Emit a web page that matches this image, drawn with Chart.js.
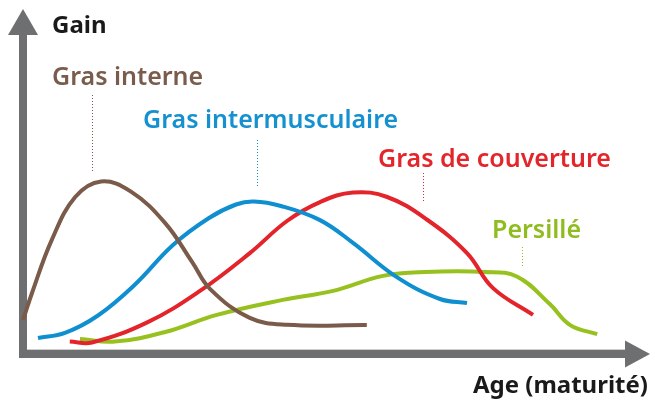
<!DOCTYPE html>
<html>
<head>
<meta charset="utf-8">
<script src="https://cdn.jsdelivr.net/npm/chart.js@4.4.1/dist/chart.umd.min.js"></script>
<style>
  html, body { margin: 0; padding: 0; background: #ffffff; }
  #wrap { width: 651px; height: 401px; position: relative; }
</style>
</head>
<body>
<div id="wrap"><canvas id="c"></canvas></div>
<script>
// Series names
const seriesNames = ["Gras interne", "Gras intermusculaire", "Gras de couverture", "Persillé"];

// Age (maturity) values and gain values per series (0-100 scales)
const internAge  = [1, 2.5, 5.8, 9.7, 14, 19, 24.7, 29.2, 32.2, 38.8, 45, 58.3];
const internGain = [10, 19, 36.7, 51, 56.2, 52.8, 42.3, 29.3, 20.3, 10.7, 8.4, 8.3];

const interMuscAge  = [3.5, 8, 13.5, 19.5, 26, 32, 36.5, 39.5, 44, 50.5, 56, 63.3, 70.5, 75];
const interMuscGain = [4, 5.7, 11.5, 21.5, 35, 44, 48.5, 49.5, 48, 43.3, 35.7, 24.3, 17, 15.7];

const couvAge  = [8.8, 12.5, 21.8, 30.5, 38.8, 45, 50.5, 56, 61.7, 68.3, 75, 79.3, 86];
const couvGain = [2.8, 2.5, 9.3, 19.7, 32.3, 43, 49.3, 52.5, 51, 43.5, 32.3, 20.7, 11.7];

const persAge  = [10.5, 16.3, 24.7, 33.3, 44.3, 52.7, 61, 68, 78, 83.3, 88.8, 92.2, 96.7];
const persGain = [3.7, 2.8, 6, 11.7, 16.7, 19.7, 24.7, 26, 26, 24.5, 15.3, 8.3, 5.3];

// Axis titles
const yTitle = "Gain";
const xTitle = "Age (maturité)";

const colors = ["#7a5a49", "#0f8fd0", "#e3242b", "#97c11f"];
const labelColors = ["#7a5c4c", "#1591d0", "#e3262c", "#8fbd1f"];

function pts(xs, ys) { return xs.map((x, i) => ({ x: x, y: ys[i] })); }

const FONT = '"Noto Sans", "Open Sans", sans-serif';

const axesPlugin = {
  id: 'axesPlugin',
  beforeDatasetsDraw(chart) {
    const ctx = chart.ctx;
    const xs = chart.scales.x, ys = chart.scales.y;
    const ax = xs.getPixelForValue(1);      // y-axis line position
    const ay = ys.getPixelForValue(-1.33);  // x-axis line position
    ctx.save();
    ctx.fillStyle = '#cfcfcf';
    ctx.fillRect(ax + 4, ay - 5, 600, 1);
    ctx.fillStyle = '#6e6f71';
    ctx.fillRect(ax - 4, 35, 8, ay + 4 - 35);
    ctx.beginPath();
    ctx.moveTo(ax, 9);
    ctx.lineTo(ax + 15, 35);
    ctx.lineTo(ax - 15, 35);
    ctx.closePath();
    ctx.fill();
    ctx.fillRect(ax - 4, ay - 4, 625 - (ax - 4), 8);
    ctx.beginPath();
    ctx.moveTo(650, ay);
    ctx.lineTo(625, ay - 13.5);
    ctx.lineTo(625, ay + 13.5);
    ctx.closePath();
    ctx.fill();
    ctx.restore();
  },
  afterDatasetsDraw(chart) {
    const ctx = chart.ctx;
    ctx.save();
    ctx.textBaseline = 'alphabetic';
    ctx.textAlign = 'left';
    ctx.fillStyle = '#1a1a1a';
    ctx.font = 'bold 24px ' + FONT;
    ctx.fillText(yTitle, 52, 33);
    ctx.textAlign = 'right';
    ctx.fillText(xTitle, 648, 393);
    ctx.textAlign = 'left';
    const lab = [
      { x: 52,  y: 85,  lx: 92,  ly1: 95,  ly2: 172 },
      { x: 143, y: 128, lx: 257, ly1: 140, ly2: 188 },
      { x: 378, y: 167, lx: 423, ly1: 173, ly2: 203 },
      { x: 492, y: 238, lx: 522, ly1: 247, ly2: 268 }
    ];
    lab.forEach((l, i) => {
      ctx.fillStyle = labelColors[i];
      ctx.font = '600 25px ' + FONT;
      ctx.fillText(seriesNames[i], l.x, l.y);
      ctx.strokeStyle = labelColors[i];
      ctx.lineWidth = 1;
      ctx.setLineDash([1, 2]);
      ctx.beginPath();
      ctx.moveTo(l.lx + 0.5, l.ly1);
      ctx.lineTo(l.lx + 0.5, l.ly2);
      ctx.stroke();
    });
    ctx.restore();
  }
};

const datasets = [
  pts(internAge, internGain),
  pts(interMuscAge, interMuscGain),
  pts(couvAge, couvGain),
  pts(persAge, persGain)
].map((d, i) => ({
  label: seriesNames[i],
  data: d,
  borderColor: colors[i],
  borderWidth: 4,
  pointRadius: 0,
  fill: false,
  tension: 0.4,
  borderCapStyle: 'butt',
  clip: false
}));

new Chart(document.getElementById('c'), {
  type: 'line',
  data: { datasets: datasets },
  options: {
    responsive: true,
    maintainAspectRatio: false,
    animation: false,
    layout: { padding: { left: 17, right: 34, top: 50, bottom: 51 } },
    scales: {
      x: { type: 'linear', min: 0, max: 100, display: false },
      y: { type: 'linear', min: 0, max: 100, display: false }
    },
    plugins: {
      legend: { display: false },
      tooltip: { enabled: false }
    }
  },
  plugins: [axesPlugin]
});
</script>
</body>
</html>
